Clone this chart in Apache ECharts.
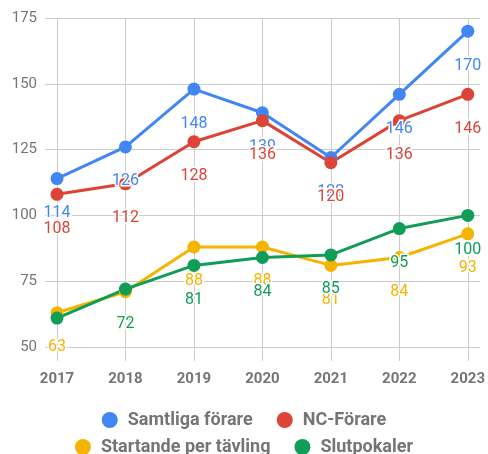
<!DOCTYPE html>
<html><head><meta charset="utf-8">
<script src="https://cdn.jsdelivr.net/npm/echarts@6/dist/echarts.min.js"></script>
<style>html,body{margin:0;padding:0;background:#fff}#c{width:488px;height:454px}</style>
</head><body><div id="c"></div>
<script>
const years = ['2017','2018','2019','2020','2021','2022','2023'];
const samtliga = [114,126,148,139,122,146,170];
const ncForare = [108,112,128,136,120,136,146];
const startande = [63,71,88,88,81,84,93];
const slutpokaler = [61,72,81,84,85,95,100];
const yTicks = {min:50, max:175, interval:25};

const names = ['Samtliga förare','NC-Förare','Startande per tävling','Slutpokaler'];
const colors = ['#4285F4','#DB4437','#F4B400','#0F9D58'];
const datas = [samtliga, ncForare, startande, slutpokaler];
const FONT = 'Roboto';
// labels sit ~13 units below their point; those that would fall below the plot are hidden
const LABEL_DROP = 13.3;

const series = datas.map((d,i)=>({
  name: names[i], type:'line', xAxisIndex:1, yAxisIndex:1,
  data: d.map(v=>({value:v, label:{show: v - LABEL_DROP >= yTicks.min - 1}})),
  color: colors[i], symbol:'circle', symbolSize:13,
  lineStyle:{width:3, color:colors[i]}, itemStyle:{color:colors[i]},
  label:{show:true, position:'bottom', distance:20, color:colors[i], fontFamily:FONT, fontSize:16,
    textBorderColor:'#fff', textBorderWidth:3},
  emphasis:{disabled:true}, animation:false
}));

const legendText = {color:'#757575', fontFamily:FONT, fontWeight:'bold', fontSize:18, padding:[0,0,0,5]};
const chart = echarts.init(document.getElementById('c'));
chart.setOption({
  animation:false,
  grid:[
    {left:45, right:8, top:18, height:329},
    {left:57, right:18, top:18, height:329}
  ],
  xAxis:[
    {gridIndex:0, type:'value', show:false, min:0, max:1},
    {gridIndex:1, type:'category', boundaryGap:false, data:years,
      axisLine:{show:false},
      axisTick:{show:true, length:14, lineStyle:{color:'#ccc', width:1}},
      splitLine:{show:true, lineStyle:{color:'#ccc', width:1}},
      axisLabel:{color:'#757575', fontFamily:FONT, fontWeight:'bold', fontSize:15, margin:25}}
  ],
  yAxis:[
    {gridIndex:0, type:'value', min:yTicks.min, max:yTicks.max, interval:yTicks.interval,
      axisLine:{show:false}, axisTick:{show:false},
      splitLine:{lineStyle:{color:'#ccc', width:1}},
      axisLabel:{color:'#757575', fontFamily:FONT, fontSize:15, margin:8}},
    {gridIndex:1, type:'value', min:yTicks.min, max:yTicks.max, interval:yTicks.interval, show:false}
  ],
  legend:[
    {data:[names[0],names[1]], top:406, left:'center', icon:'circle', itemWidth:16, itemHeight:16, itemGap:24,
      textStyle:legendText},
    {data:[names[2],names[3]], top:433, left:'center', icon:'circle', itemWidth:16, itemHeight:16, itemGap:24,
      textStyle:legendText}
  ],
  series: series
});
</script></body></html>
